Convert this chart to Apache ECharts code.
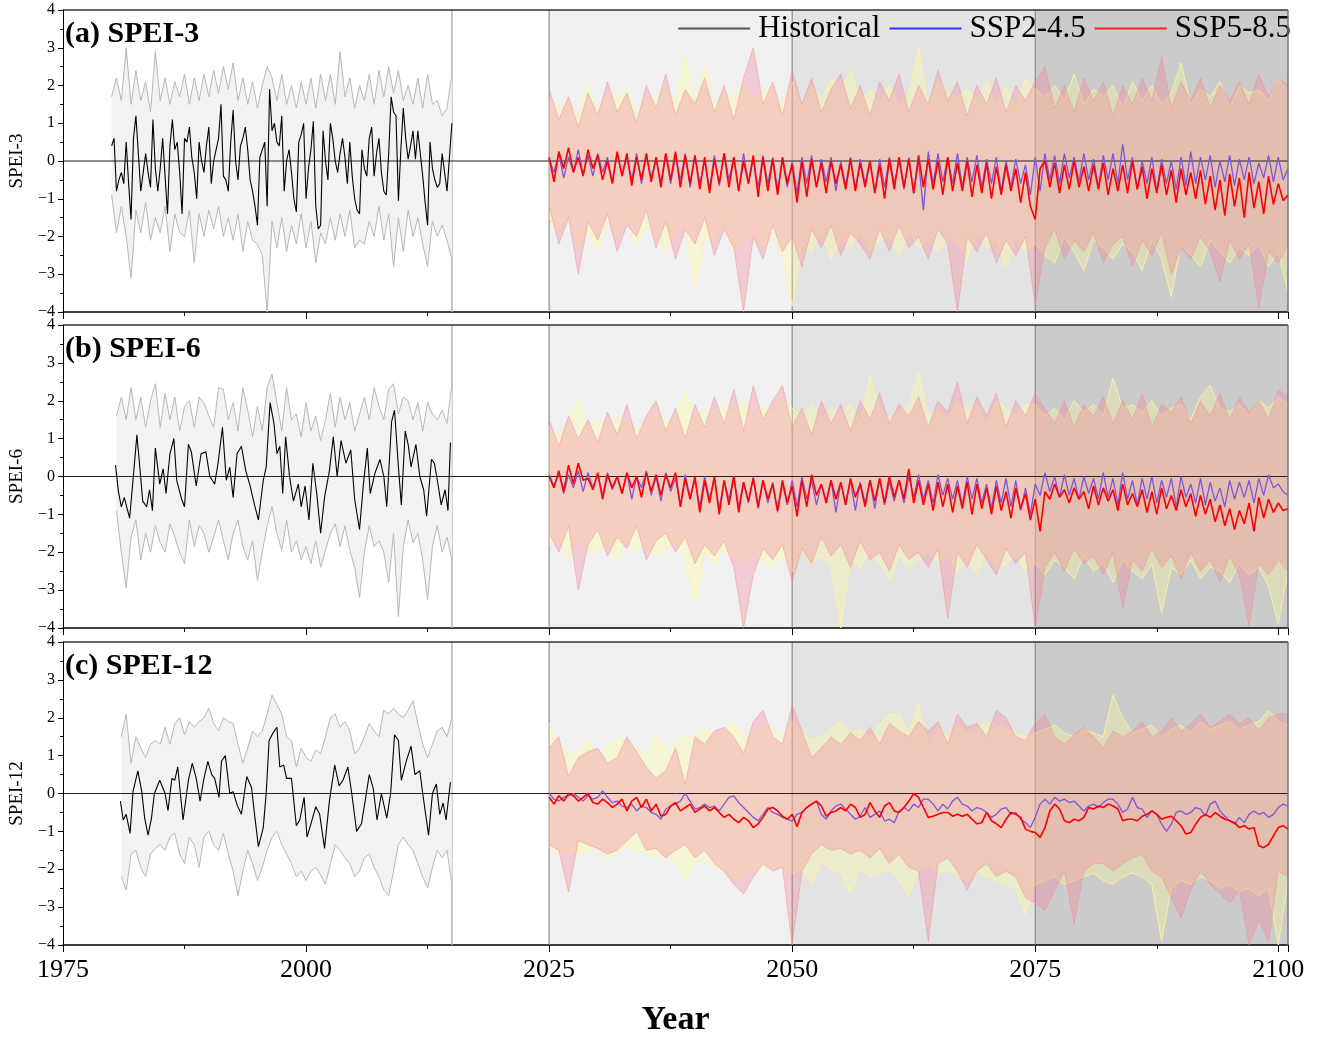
<!DOCTYPE html>
<html><head><meta charset="utf-8">
<script src="https://cdn.jsdelivr.net/npm/echarts@6.0.0/dist/echarts.min.js"></script>
<style>html,body{margin:0;padding:0;background:#fff}#chart{width:1324px;height:1039px}</style>
</head><body><div id="chart"></div>
<script>
// ---------------- DATA ----------------
const legendNames = ['Historical', 'SSP2-4.5', 'SSP5-8.5'];
const panelLabels = ['(a) SPEI-3', '(b) SPEI-6', '(c) SPEI-12'];
const yNames = ['SPEI-3', 'SPEI-6', 'SPEI-12'];
const bgSpans = [[2025, 2050], [2050, 2075], [2075, 2101]];
const vLineYears = [2015, 2025, 2050, 2075];

// Panel (a) SPEI-3 historical mean (quarterly from 1980.0)
const histSpeiA = [0.4,0.6,-0.8,-0.5,-0.3,-0.6,0.5,-0.6,-1.55,0.6,
1.2,0.2,-0.8,-0.3,0.2,-0.3,-0.7,1.1,-0.2,-0.8,
-0.2,0.6,-0.4,-1.4,0.4,1.1,0.3,0.5,-0.3,-1.4,
0.6,0.5,0.9,0.1,-0.3,-1.0,0.5,0.0,-0.3,0.4,
0.9,-0.6,0.0,0.3,0.6,1.5,-0.4,-0.5,-0.8,0.5,
1.35,0.0,-0.5,0.4,0.6,0.9,0.3,-0.5,-0.8,-1.2,
-1.7,0.1,0.3,0.5,-1.2,1.9,0.8,1.0,0.5,0.4,
1.2,-0.8,0.0,0.3,-0.3,-1.0,-1.35,0.5,0.7,1.0,
-1.0,-0.2,0.3,1.05,-1.2,-1.8,-1.7,0.8,0.0,-0.5,
1.0,0.6,0.0,-0.3,0.2,0.6,0.1,-0.6,0.5,-0.4,
-1.0,-1.3,-1.4,0.3,-0.2,-0.4,0.6,0.9,-0.4,0.2,
0.6,-0.3,-0.8,-0.9,0.2,1.7,1.3,1.2,-1.05,0.3,
1.4,0.6,0.05,0.4,0.8,0.05,0.8,0.2,-0.4,-1.1,
-1.7,0.5,-0.2,-0.5,-0.7,-0.6,0.2,-0.3,-0.8,0.1,
1.0];
// Historical band (half-yearly from 1980.0)
const histUpA = [1.7,2.2,1.6,3.0,1.5,2.4,1.6,2.1,1.3,2.9,
1.6,2.2,1.5,2.1,1.7,2.3,1.5,2.2,1.6,2.3,
1.7,2.4,1.8,2.5,1.9,2.6,1.6,2.2,1.5,2.1,
1.4,2.0,2.5,2.2,1.6,2.3,1.5,2.0,1.4,2.1,
1.5,2.2,1.4,2.3,1.6,2.3,1.5,2.9,1.7,2.2,
1.4,2.0,1.6,2.3,1.5,2.4,1.7,2.5,1.8,2.4,
1.6,2.0,1.5,2.2,1.4,2.3,1.5,1.6,1.2,1.4,
2.3];
const histLoA = [-0.9,-1.9,-1.2,-2.0,-3.1,-1.3,-1.9,-1.1,-2.1,-1.5,
-1.9,-1.2,-2.4,-1.4,-1.9,-2.0,-1.3,-2.7,-1.4,-2.0,
-1.3,-1.8,-1.2,-2.0,-1.5,-2.1,-1.4,-2.4,-1.6,-2.1,
-2.2,-2.5,-4.0,-1.6,-2.3,-1.5,-2.4,-1.7,-2.2,-1.4,
-2.3,-1.6,-2.7,-1.9,-2.2,-1.5,-2.1,-1.4,-2.0,-1.3,
-2.3,-2.1,-2.2,-1.6,-2.0,-1.2,-2.1,-1.4,-2.8,-1.5,
-2.4,-1.3,-2.0,-1.5,-2.2,-2.8,-1.6,-2.0,-1.7,-2.1,
-2.6];
// Future means (half-yearly from 2025.0 to 2101.0)
const ssp245A = [0.05,-0.3,0.2,-0.45,0.1,-0.3,0.3,-0.35,0.15,-0.4,
0.2,-0.3,0.1,-0.55,0.2,-0.4,0.1,-0.5,0.2,-0.6,
0.15,-0.45,0.05,-0.55,0.2,-0.6,0.1,-0.5,0.2,-0.7,
0.15,-0.6,0.0,-0.75,0.15,-0.65,0.2,-0.5,0.1,-0.8,
0.2,-0.6,0.05,-0.7,0.15,-0.6,0.1,-0.75,0.0,-0.7,
0.0,-0.85,0.1,-0.6,0.15,-0.7,0.05,-0.55,0.1,-0.8,
0.0,-0.65,0.1,-0.75,0.05,-0.6,0.0,-0.8,0.05,-0.7,
0.1,-0.6,0.0,-0.75,0.1,-0.85,0.0,-1.3,0.25,-0.6,
0.2,-0.55,0.1,-0.6,0.2,-0.7,0.1,-0.55,0.15,-0.7,
0.05,-0.6,0.1,-0.8,0.0,-0.7,0.05,-0.6,-0.1,-0.9,
0.1,-0.8,0.2,-0.5,0.15,-0.6,0.2,-0.45,0.1,-0.55,
0.2,-0.5,0.05,-0.7,0.15,-0.5,0.2,-0.6,0.45,-0.5,
0.1,-0.75,0.0,-0.6,0.1,-0.8,0.05,-0.6,0.0,-0.75,
0.1,-0.65,0.25,-0.6,0.1,-0.5,0.15,-0.7,0.0,-0.55,
0.15,-0.65,0.05,-0.5,0.1,-0.6,-0.05,-0.45,0.15,-0.55,
0.1,-0.5,-0.2];
const ssp585A = [0.1,-0.55,0.25,-0.2,0.35,-0.3,0.1,-0.4,0.3,-0.2,
0.15,-0.5,0.0,-0.6,0.25,-0.4,0.2,-0.65,0.1,-0.5,
0.2,-0.55,0.1,-0.7,0.2,-0.5,0.25,-0.7,0.15,-0.6,
0.15,-0.75,0.1,-0.85,0.05,-0.6,0.2,-0.7,0.1,-0.8,
0.0,-0.6,0.15,-0.95,0.1,-0.8,0.05,-0.9,0.1,-0.6,
-0.1,-1.1,0.0,-0.95,0.05,-0.7,-0.05,-0.85,0.0,-0.6,
-0.1,-0.75,0.05,-0.8,-0.05,-0.7,0.0,-0.85,-0.1,-1.0,
0.05,-0.75,0.1,-0.7,0.05,-0.85,0.15,-0.7,0.05,-0.75,
0.0,-0.9,0.1,-0.8,-0.05,-0.8,0.0,-0.95,-0.1,-0.85,
-0.05,-1.0,-0.15,-0.9,-0.1,-0.8,-0.2,-1.1,-0.3,-1.2,
-1.55,-0.2,0.0,-0.7,-0.05,-0.85,-0.1,-0.75,0.0,-0.7,
-0.15,-0.8,-0.1,-0.75,-0.05,-0.9,-0.2,-0.8,-0.1,-0.85,
0.0,-0.75,-0.15,-1.0,-0.2,-0.85,-0.1,-0.9,-0.25,-1.1,
-0.2,-0.9,-0.3,-1.0,-0.25,-1.15,-0.4,-1.3,-0.5,-1.45,
-0.35,-1.2,-0.45,-1.5,-0.3,-1.25,-0.55,-1.4,-0.4,-1.15,
-0.6,-1.05,-0.9];
// Future bands (yearly 2025..2101)
const ssp245UpA = [1.6,1.4,1.5,1.2,2.0,1.3,1.8,1.6,1.9,1.2,
1.7,1.6,2.0,1.5,2.75,1.4,2.5,1.5,1.8,1.6,
2.0,1.6,1.8,1.9,1.5,2.1,1.4,2.0,1.6,2.2,
1.8,2.4,1.6,1.9,1.5,2.0,1.4,1.8,3.0,1.4,
2.1,1.8,1.7,1.9,1.6,2.1,1.5,2.0,1.4,2.2,
1.9,1.7,2.0,1.6,2.3,1.5,1.9,1.7,2.0,1.4,
2.1,1.6,2.0,1.5,1.8,2.6,1.5,1.9,1.7,2.1,
1.4,2.0,1.8,1.9,1.6,2.2,1.8];
const ssp245LoA = [-1.5,-1.9,-1.3,-2.3,-1.8,-2.4,-1.6,-2.0,-1.5,-2.2,
-1.7,-2.0,-2.4,-1.9,-1.7,-3.3,-2.0,-2.2,-1.6,-2.4,
-2.1,-1.8,-2.3,-2.0,-2.5,-3.85,-2.2,-2.4,-1.9,-2.6,
-2.0,-2.3,-1.9,-2.4,-2.1,-2.0,-2.5,-1.8,-2.3,-2.1,
-2.4,-2.0,-2.2,-2.6,-1.9,-2.3,-2.1,-2.8,-2.0,-2.4,
-2.2,-2.5,-2.7,-2.0,-2.4,-2.9,-2.1,-2.3,-2.6,-2.2,
-2.4,-2.9,-2.1,-2.6,-3.6,-2.2,-2.5,-2.8,-2.1,-2.4,
-2.7,-2.3,-2.5,-2.2,-2.8,-2.4,-3.5];
const ssp585UpA = [1.9,1.1,1.7,0.9,1.8,1.2,2.1,1.3,1.8,1.0,
2.0,1.4,2.3,1.2,1.9,1.5,2.2,1.3,2.0,1.1,
2.2,3.0,1.5,2.1,1.2,2.4,1.5,2.2,1.3,1.9,
2.3,1.4,2.0,1.2,2.1,1.6,2.3,1.3,2.0,1.5,
2.4,1.6,2.1,1.2,2.0,1.5,2.2,1.3,2.0,1.6,
2.1,2.5,1.4,2.0,1.3,2.2,1.6,2.1,1.2,2.0,
1.5,2.2,1.6,2.8,1.4,2.1,1.6,2.2,1.4,2.0,
1.6,2.1,1.5,2.3,1.7,2.2,2.0];
const ssp585LoA = [-1.2,-2.2,-1.5,-3.0,-1.6,-2.1,-1.4,-2.4,-1.7,-2.0,
-1.3,-2.3,-1.6,-2.6,-1.8,-2.2,-1.5,-2.5,-1.8,-2.3,
-4.0,-2.0,-2.6,-1.7,-2.4,-2.0,-2.8,-1.8,-2.3,-1.7,
-2.5,-1.9,-2.2,-2.6,-1.8,-2.4,-1.7,-2.3,-2.0,-2.6,
-1.8,-2.2,-4.0,-2.0,-2.4,-1.9,-2.7,-2.1,-2.5,-2.0,
-3.8,-2.3,-1.8,-2.6,-2.1,-2.4,-1.9,-2.7,-2.2,-2.0,
-2.8,-2.1,-2.5,-1.9,-3.0,-2.3,-2.6,-2.0,-2.4,-3.2,
-2.1,-2.6,-2.2,-3.9,-2.4,-2.7,-2.2];

// Panel (b) SPEI-6 historical mean (read at turning points)
const histTimeB = [1980.4,1980.7,1981.0,1981.3,1981.85,1982.2,1982.6,1982.9,1983.2,1983.6,
1983.9,1984.2,1984.5,1984.95,1985.3,1985.6,1986.0,1986.4,1986.7,1987.2,
1987.5,1987.9,1988.2,1988.7,1989.2,1989.7,1990.1,1990.6,1990.95,1991.4,
1991.8,1992.15,1992.5,1992.9,1993.35,1993.8,1994.2,1994.7,1995.1,1995.6,
1995.9,1996.3,1996.7,1997.0,1997.3,1997.6,1997.9,1998.3,1998.7,1999.2,
1999.5,1999.9,2000.3,2000.7,2001.1,2001.5,2001.9,2002.4,2002.8,2003.2,
2003.6,2004.1,2004.6,2005.0,2005.5,2005.9,2006.3,2006.6,2007.1,2007.6,
2008.0,2008.3,2008.8,2009.1,2009.5,2009.8,2010.2,2010.5,2010.8,2011.3,
2011.7,2012.1,2012.4,2012.9,2013.2,2013.6,2013.9,2014.3,2014.6,2014.85];
const histSpeiB = [0.3,-0.4,-0.8,-0.55,-1.1,-0.1,1.1,0.25,-0.65,-0.8,
-0.35,-0.9,0.75,-0.2,0.2,-0.45,0.6,1.0,-0.1,-0.6,
-0.8,0.85,0.65,-0.25,0.6,0.65,0.0,-0.2,0.35,1.3,
-0.1,0.25,-0.55,0.6,0.8,0.15,-0.2,-0.75,-1.15,-0.1,
0.25,1.95,1.4,0.6,0.8,-0.45,1.05,0.0,-0.65,-0.2,
-0.8,-0.25,-1.15,0.35,-0.45,-1.5,-0.55,0.15,1.05,0.0,
0.95,0.35,0.7,-0.6,-1.4,-0.2,0.75,-0.45,0.1,0.45,
0.0,-0.8,1.45,1.75,0.25,-0.75,1.2,0.85,0.25,0.85,
0.0,-0.35,-1.05,0.45,0.35,-0.25,-0.75,-0.35,-0.9,0.9];
// Historical band (half-yearly from 1980.5)
const histUpB = [1.6,2.1,1.5,2.35,1.5,2.1,1.3,2.0,2.45,1.3,
2.2,1.5,2.1,1.2,1.85,2.0,1.3,2.1,1.95,1.6,
1.3,2.35,2.3,1.5,1.95,1.2,2.35,1.75,1.05,1.85,
1.2,2.35,2.7,1.95,1.2,2.35,1.5,1.65,1.05,1.95,
1.2,1.6,0.95,1.5,2.2,1.3,2.1,1.5,1.95,1.2,
1.65,2.1,1.5,2.35,1.85,1.5,2.3,2.45,1.65,2.1,
2.0,1.5,1.95,1.2,1.95,1.65,1.5,1.75,1.4,2.45];
const histLoB = [-0.9,-2.0,-2.95,-1.6,-1.15,-2.2,-1.5,-2.0,-1.3,-1.75,
-2.0,-1.25,-1.6,-2.0,-2.3,-1.15,-1.85,-1.3,-1.5,-2.0,
-1.6,-1.15,-1.7,-2.2,-1.5,-1.15,-1.85,-2.2,-1.7,-2.75,
-2.0,-1.3,-0.8,-1.5,-1.95,-1.15,-2.0,-1.7,-2.2,-1.85,
-2.3,-1.7,-2.4,-1.95,-1.5,-1.25,-1.85,-1.3,-1.95,-2.4,
-3.2,-2.0,-1.3,-1.85,-1.7,-2.0,-2.8,-1.5,-3.7,-1.85,
-1.15,-1.75,-1.5,-2.2,-3.25,-1.85,-1.3,-2.0,-1.6,-2.2];
const ssp245B = [0.05,-0.25,0.1,-0.45,0.05,-0.3,0.15,-0.4,0.1,-0.3,
0.05,-0.5,0.1,-0.35,0.0,-0.45,0.1,-0.6,0.0,-0.3,
0.15,-0.5,0.0,-0.65,0.1,-0.4,-0.05,-0.75,0.05,-0.55,
-0.1,-0.8,0.0,-0.6,-0.05,-0.85,-0.1,-0.6,0.0,-0.8,
-0.15,-0.7,0.0,-0.85,-0.1,-0.7,-0.15,-0.95,-0.2,-0.75,
-0.1,-0.8,0.0,-0.6,-0.1,-0.75,-0.2,-0.65,-0.1,-0.95,
-0.15,-0.75,-0.1,-0.9,-0.15,-0.7,-0.1,-0.85,-0.05,-0.75,
-0.15,-0.65,-0.1,-0.7,0.0,-0.55,0.05,-0.6,-0.1,-0.7,
0.05,-0.5,-0.05,-0.6,-0.1,-0.75,0.0,-0.6,-0.05,-0.7,
-0.2,-0.85,-0.1,-0.7,-0.05,-0.8,-0.1,-0.9,-0.3,-1.0,
-0.2,-0.5,0.1,-0.4,0.0,-0.55,0.05,-0.5,-0.05,-0.6,
0.0,-0.45,-0.05,-0.6,0.1,-0.55,-0.05,-0.75,0.1,-0.6,
-0.1,-0.75,-0.05,-0.6,0.0,-0.7,-0.1,-0.55,-0.05,-0.8,
0.0,-0.55,-0.2,-0.7,-0.05,-0.75,-0.15,-0.65,-0.3,-0.8,
-0.1,-0.6,-0.15,-0.55,-0.1,-0.7,-0.05,-0.5,0.05,-0.3,
-0.2,-0.4,-0.5];
const ssp585B = [0.0,-0.3,0.15,-0.4,0.3,-0.2,0.35,-0.1,-0.05,-0.35,
0.1,-0.6,0.05,-0.3,0.0,-0.45,0.1,-0.3,0.0,-0.55,
0.1,-0.4,0.05,-0.5,0.05,-0.3,0.1,-0.8,-0.05,-0.6,
0.0,-0.95,-0.1,-0.7,0.0,-1.0,-0.1,-0.75,0.0,-0.95,
-0.15,-0.65,-0.05,-0.8,-0.1,-0.6,-0.2,-0.9,-0.1,-0.7,
-0.25,-1.05,-0.1,-0.8,0.05,-0.5,-0.2,-0.7,-0.1,-0.6,
-0.15,-0.75,-0.05,-0.55,-0.2,-0.8,-0.1,-0.65,-0.05,-0.7,
0.0,-0.55,-0.1,-0.6,0.2,-0.7,-0.1,-0.75,-0.2,-0.9,
-0.15,-0.8,-0.2,-0.95,-0.25,-0.85,-0.15,-1.0,-0.2,-0.85,
-0.3,-1.0,-0.25,-0.9,-0.4,-1.1,-0.3,-0.85,-0.45,-1.15,
-0.6,-1.45,-0.4,-0.6,-0.2,-0.55,-0.35,-0.7,-0.3,-0.6,
-0.4,-0.85,-0.25,-0.75,-0.3,-0.65,-0.35,-0.9,-0.2,-0.75,
-0.45,-0.8,-0.35,-0.95,-0.4,-1.0,-0.3,-0.85,-0.5,-0.9,
-0.35,-0.8,-0.45,-1.05,-0.5,-1.0,-0.6,-1.2,-0.75,-1.3,
-0.85,-1.4,-0.9,-1.25,-0.7,-1.45,-0.55,-1.1,-0.6,-0.95,
-0.7,-0.9,-0.85];
const ssp245UpB = [1.3,1.1,1.4,2.0,1.2,1.5,1.3,1.6,1.4,1.2,
1.5,1.7,1.4,1.6,2.2,1.5,1.8,1.6,1.9,1.7,
2.0,1.6,1.8,1.7,2.1,1.8,1.6,1.9,1.5,1.8,
1.6,1.9,1.4,2.65,1.8,1.5,1.7,1.9,2.75,1.6,
1.8,1.5,2.0,1.7,1.9,1.4,2.0,1.8,1.6,1.9,
1.9,1.6,1.8,1.5,2.0,1.7,1.9,1.6,2.6,1.8,
1.9,1.7,2.0,1.6,1.8,1.9,1.5,2.1,2.4,1.8,
1.7,1.9,1.6,2.0,1.8,2.1,1.9];
const ssp245LoB = [-1.8,-1.6,-2.2,-1.5,-1.9,-2.0,-1.7,-2.2,-1.6,-2.0,
-1.8,-2.1,-1.9,-1.7,-2.2,-3.35,-2.0,-2.3,-1.9,-2.1,
-2.3,-2.0,-2.2,-2.4,-2.1,-2.5,-2.0,-2.3,-2.1,-2.4,
-4.0,-2.2,-2.4,-2.0,-2.3,-2.75,-2.1,-2.4,-2.2,-2.0,
-2.3,-2.1,-2.5,-2.2,-2.6,-2.0,-2.4,-2.3,-2.1,-2.5,
-2.3,-2.6,-2.2,-2.4,-2.7,-2.1,-2.5,-2.3,-2.8,-2.2,
-2.5,-2.7,-2.3,-3.6,-2.4,-2.6,-2.2,-2.7,-2.4,-2.5,
-2.8,-2.3,-2.6,-2.4,-2.9,-3.9,-2.5];
const ssp585UpB = [1.5,0.8,1.6,1.0,1.5,0.9,1.7,1.1,1.9,1.0,
1.6,2.0,1.2,1.8,1.0,1.9,1.3,2.1,1.4,2.3,
1.2,2.4,1.5,2.0,2.4,1.3,1.8,1.1,2.0,1.4,
1.9,1.2,2.0,1.5,2.2,1.4,1.9,1.6,2.1,1.3,
2.0,1.7,2.5,1.4,2.1,1.6,2.2,1.3,2.0,1.6,
2.2,1.8,1.4,2.0,1.3,1.9,1.6,2.1,1.4,2.0,
1.5,2.2,1.3,1.9,1.7,2.1,1.4,2.0,1.6,2.2,
1.5,2.1,1.7,2.0,1.5,2.3,2.1];
const ssp585LoB = [-1.5,-2.0,-1.3,-3.0,-1.8,-1.4,-2.1,-1.6,-1.9,-1.3,
-2.2,-1.7,-1.5,-2.0,-1.6,-2.3,-1.8,-2.1,-1.7,-2.4,
-4.0,-2.6,-1.9,-2.2,-1.8,-2.8,-1.9,-2.3,-1.6,-2.1,
-1.8,-2.4,-1.7,-2.2,-2.0,-2.5,-1.8,-2.2,-2.0,-2.4,
-1.9,-3.75,-2.0,-2.4,-1.8,-2.2,-2.6,-1.9,-2.3,-2.0,
-4.0,-2.4,-2.0,-2.5,-1.9,-2.3,-2.1,-2.6,-2.0,-3.5,
-2.2,-2.5,-1.9,-2.4,-2.1,-2.7,-2.0,-2.5,-2.2,-2.8,
-2.1,-2.6,-3.95,-2.3,-2.6,-2.2,-2.5];

// Panel (c) SPEI-12 historical mean (read at turning points)
const histTimeC = [1980.9,1981.2,1981.5,1981.9,1982.2,1982.7,1983.1,1983.4,1983.75,1984.1,
1984.4,1984.95,1985.5,1985.8,1986.2,1986.5,1986.8,1987.35,1987.9,1988.3,
1988.7,1989.1,1989.5,1989.9,1990.3,1990.6,1991.05,1991.3,1991.7,1992.15,
1992.5,1992.9,1993.35,1993.9,1994.4,1994.7,1995.1,1995.6,1995.9,1996.2,
1996.6,1997.0,1997.3,1997.7,1998.0,1998.5,1999.0,1999.35,1999.8,2000.1,
2000.5,2001.0,2001.4,2001.9,2002.4,2002.95,2003.4,2003.8,2004.3,2004.7,
2005.2,2005.7,2006.2,2006.5,2006.9,2007.3,2007.75,2008.3,2008.7,2009.1,
2009.5,2009.8,2010.3,2010.8,2011.2,2011.7,2012.0,2012.6,2013.0,2013.4,
2013.75,2014.1,2014.4,2014.6,2014.85];
const histSpeiC = [-0.2,-0.7,-0.55,-1.05,0.05,0.6,0.05,-0.65,-1.1,-0.65,
0.0,0.35,0.0,-0.45,0.4,0.35,0.7,-0.7,0.35,0.8,
0.4,-0.2,0.4,0.85,0.5,0.4,-0.1,0.85,1.0,0.0,
0.05,-0.3,-0.55,0.45,0.15,-0.55,-1.4,-0.9,0.0,1.4,
1.6,1.75,0.7,0.75,0.4,0.4,-0.85,-0.7,-0.1,-1.15,
-0.8,-0.35,-0.55,-1.45,-0.2,0.75,0.2,0.35,0.7,0.0,
-1.0,-0.8,0.0,0.5,0.15,-0.7,0.0,-0.65,0.0,1.55,
1.4,0.35,0.85,1.25,0.5,0.6,0.0,-1.1,0.0,0.25,
-0.55,-0.25,-0.7,-0.65,0.3];
// Historical band (half-yearly from 1981.0)
const histUpC = [1.5,2.1,0.8,1.5,1.2,0.95,1.3,1.4,1.3,1.75,
1.3,1.85,2.0,1.55,1.9,1.75,1.9,2.0,2.25,1.85,
1.65,2.0,1.9,1.85,1.3,0.8,1.2,1.65,1.5,1.65,
2.1,2.6,2.35,2.1,1.5,1.4,0.7,1.2,0.95,0.85,
1.15,1.05,1.5,2.0,2.1,1.75,1.9,1.65,1.05,1.2,
1.5,1.85,1.65,1.5,2.2,2.1,2.25,2.1,2.0,2.2,
2.45,1.85,1.3,0.95,1.3,1.65,1.75,1.5,2.0];
const histLoC = [-2.2,-2.55,-1.6,-1.5,-1.95,-2.2,-1.6,-1.45,-1.35,-1.5,
-1.15,-1.05,-1.6,-1.85,-1.15,-1.35,-1.95,-1.15,-1.0,-1.35,
-1.5,-1.05,-1.6,-2.05,-2.7,-2.05,-1.5,-1.85,-2.3,-1.95,
-1.5,-1.15,-1.0,-1.35,-1.6,-1.85,-2.2,-2.05,-2.3,-2.05,
-1.95,-2.15,-2.4,-1.85,-1.35,-1.5,-1.7,-1.85,-2.2,-2.05,
-1.7,-1.6,-1.95,-2.2,-2.55,-2.7,-2.05,-1.35,-1.15,-1.35,
-1.5,-1.85,-2.2,-2.5,-1.95,-1.5,-1.7,-1.5,-2.4];
const ssp245C = [0.0,-0.15,-0.2,-0.1,-0.06,0.0,-0.1,-0.2,-0.06,-0.15,
-0.1,0.07,-0.1,-0.24,-0.2,-0.33,-0.37,-0.28,-0.46,-0.33,
-0.37,-0.5,-0.55,-0.68,-0.41,-0.33,-0.28,-0.2,0.0,-0.2,
-0.41,-0.37,-0.28,-0.37,-0.33,-0.46,-0.28,-0.1,-0.06,-0.24,
-0.37,-0.5,-0.63,-0.72,-0.55,-0.37,-0.5,-0.55,-0.63,-0.68,
-0.72,-0.55,-0.5,-0.37,-0.28,-0.2,-0.55,-0.68,-0.46,-0.33,
-0.28,-0.41,-0.55,-0.68,-0.6,-0.37,-0.63,-0.55,-0.46,-0.72,
-0.68,-0.77,-0.46,-0.37,-0.46,-0.28,-0.37,-0.15,-0.15,-0.28,
-0.46,-0.28,-0.41,-0.2,-0.1,-0.28,-0.33,-0.46,-0.37,-0.41,
-0.5,-0.63,-0.55,-0.41,-0.37,-0.55,-0.5,-0.68,-0.77,-0.9,
-0.63,-0.28,-0.15,-0.28,-0.1,-0.2,-0.15,-0.24,-0.2,-0.33,
-0.46,-0.33,-0.28,-0.37,-0.24,-0.15,-0.15,-0.28,-0.5,-0.41,
-0.1,-0.37,-0.41,-0.63,-0.46,-0.55,-0.81,-1.0,-0.81,-0.5,
-0.46,-0.55,-0.5,-0.37,-0.41,-0.6,-0.28,-0.2,-0.46,-0.6,
-0.72,-0.81,-0.63,-0.77,-0.55,-0.46,-0.55,-0.5,-0.63,-0.55,
-0.37,-0.28,-0.33];
const ssp585C = [-0.1,-0.28,-0.06,-0.2,0.0,-0.06,-0.2,-0.1,0.0,-0.24,
-0.28,-0.15,-0.24,-0.37,-0.28,-0.15,-0.46,-0.2,-0.1,-0.37,
-0.15,-0.46,-0.28,-0.6,-0.55,-0.33,-0.24,-0.46,-0.37,-0.28,
-0.5,-0.41,-0.33,-0.46,-0.37,-0.5,-0.63,-0.55,-0.68,-0.77,
-0.63,-0.72,-0.9,-0.8,-0.63,-0.41,-0.37,-0.46,-0.6,-0.68,
-0.55,-0.88,-0.5,-0.37,-0.28,-0.2,-0.33,-0.6,-0.5,-0.46,
-0.37,-0.46,-0.28,-0.37,-0.63,-0.55,-0.24,-0.46,-0.63,-0.33,
-0.24,-0.46,-0.5,-0.37,-0.2,0.0,-0.1,-0.37,-0.63,-0.6,
-0.55,-0.5,-0.5,-0.6,-0.55,-0.6,-0.55,-0.68,-0.8,-0.77,
-0.5,-0.72,-0.8,-0.9,-0.68,-0.5,-0.55,-0.63,-0.94,-1.0,
-1.03,-1.16,-0.9,-0.46,-0.28,-0.41,-0.72,-0.77,-0.68,-0.72,
-0.63,-0.37,-0.41,-0.33,-0.37,-0.28,-0.33,-0.41,-0.72,-0.68,
-0.68,-0.72,-0.6,-0.55,-0.46,-0.55,-0.68,-0.63,-0.6,-0.72,
-0.85,-1.07,-1.03,-0.81,-0.63,-0.55,-0.63,-0.5,-0.6,-0.68,
-0.72,-0.77,-0.9,-0.85,-0.94,-0.9,-1.38,-1.43,-1.34,-1.12,
-0.9,-0.85,-0.94];
const ssp245UpC = [1.85,1.3,1.0,1.1,1.4,1.0,1.2,1.5,1.3,1.2,
1.0,1.6,1.1,1.3,1.55,1.4,1.7,1.5,1.6,1.9,
1.5,1.6,1.8,1.7,1.5,1.9,1.6,1.4,1.5,1.7,
1.9,1.6,1.7,1.5,1.8,2.1,2.1,1.6,2.4,1.2,
1.7,1.5,1.8,1.6,1.7,1.9,1.8,1.7,1.6,1.5,
1.6,1.7,1.8,1.6,1.5,1.7,1.6,1.5,2.6,2.0,
1.6,1.7,1.8,1.5,1.7,1.8,1.6,1.9,1.7,1.8,
1.9,1.7,1.8,1.9,2.2,1.9,1.8];
const ssp245LoC = [-1.4,-1.6,-1.5,-1.6,-1.5,-1.4,-1.7,-1.6,-1.4,-1.5,
-1.6,-1.7,-1.5,-1.8,-2.3,-1.8,-1.7,-1.9,-2.0,-2.3,
-2.2,-2.0,-2.1,-1.9,-2.0,-2.1,-2.0,-2.4,-1.8,-2.0,
-2.1,-2.65,-2.0,-2.2,-2.1,-2.0,-2.3,-2.7,-2.0,-1.9,
-2.1,-2.0,-2.2,-2.3,-2.1,-2.2,-2.3,-2.4,-2.5,-3.2,
-2.4,-2.3,-2.2,-2.4,-2.3,-2.2,-2.1,-2.3,-2.4,-2.2,
-2.1,-2.2,-2.4,-3.9,-2.5,-2.3,-2.4,-2.2,-2.3,-2.5,
-2.4,-2.6,-2.5,-2.7,-2.5,-4.0,-2.3];
const ssp585UpC = [1.2,1.5,0.45,0.95,1.1,1.2,0.8,0.95,1.5,1.1,
0.7,0.4,0.6,1.2,0.25,1.5,1.3,1.65,1.75,1.5,
1.05,1.9,2.2,1.5,1.3,2.35,1.65,0.95,1.2,1.5,
1.3,1.6,1.4,1.75,1.3,1.85,1.65,1.5,1.9,1.65,
1.9,1.3,2.1,1.75,1.85,1.5,2.2,2.0,1.5,1.4,
1.85,2.1,1.5,1.3,1.55,1.75,1.5,1.2,1.65,1.5,
1.65,1.9,1.5,1.65,2.0,1.65,1.85,2.1,1.75,1.9,
2.1,1.85,2.0,1.65,2.0,2.1,2.1];
const ssp585LoC = [-1.35,-1.5,-2.6,-1.25,-1.35,-1.45,-1.6,-1.5,-1.25,-1.0,
-1.5,-1.45,-1.7,-1.5,-1.35,-1.7,-1.5,-1.85,-2.05,-2.4,
-2.65,-2.2,-1.85,-2.05,-1.95,-4.0,-2.05,-1.6,-1.35,-1.5,
-1.45,-1.6,-1.5,-1.7,-1.45,-1.85,-1.6,-1.95,-2.05,-3.9,
-1.85,-1.7,-2.05,-2.55,-2.05,-1.85,-2.2,-2.05,-2.2,-2.75,
-2.9,-3.1,-2.55,-2.05,-3.45,-2.05,-1.85,-1.85,-2.05,-1.85,
-1.7,-1.6,-2.05,-2.2,-2.75,-3.3,-2.55,-2.05,-2.4,-2.65,
-2.9,-2.55,-4.0,-3.35,-3.9,-2.05,-2.2];

// ---------------- CHART ----------------
const seq = (start, step, n) => Array.from({length: n}, (_, i) => +(start + step * i).toFixed(4));
const zip = (t, v) => t.map((x, i) => [x, v[i]]);
const FONT = "'Liberation Serif','Times New Roman',serif";
const X_MIN = 1975, X_MAX = 2101, Y_MIN = -4, Y_MAX = 4;
const futLineT = seq(2025, 0.5, 153);
const futBandT = seq(2025, 1, 77);

const panels = [
  {histT: seq(1980, 0.25, 141), hist: histSpeiA, hbT: seq(1980, 0.5, 71), hUp: histUpA, hLo: histLoA,
   s245: ssp245A, s585: ssp585A, yUp: ssp245UpA, yLo: ssp245LoA, pUp: ssp585UpA, pLo: ssp585LoA},
  {histT: histTimeB, hist: histSpeiB, hbT: seq(1980.5, 0.5, 70), hUp: histUpB, hLo: histLoB,
   s245: ssp245B, s585: ssp585B, yUp: ssp245UpB, yLo: ssp245LoB, pUp: ssp585UpB, pLo: ssp585LoB},
  {histT: histTimeC, hist: histSpeiC, hbT: seq(1981, 0.5, 69), hUp: histUpC, hLo: histLoC,
   s245: ssp245C, s585: ssp585C, yUp: ssp245UpC, yLo: ssp245LoC, pUp: ssp585UpC, pLo: ssp585LoC}
];

const gridTops = [10, 325, 642];
const gridHeights = [302, 303, 303];
const bgColors = ['#f0f0f0', '#e3e3e3', '#cbcbcb'];
const vLineColors = ['#b4b4b4', '#7a7a7a', '#7a7a7a', '#7a7a7a'];
const vLineWidths = [1.5, 1, 1, 1];

function bandSeries(g, t, up, lo, fill, stroke, z) {
  return {
    type: 'custom', xAxisIndex: g, yAxisIndex: g, z: z, silent: true, animation: false,
    data: [[t[0], 0]],
    renderItem: function (params, api) {
      const top = t.map((x, i) => api.coord([x, up[i]]));
      const bot = t.map((x, i) => api.coord([x, lo[i]]));
      return {type: 'group', children: [
        {type: 'polygon', shape: {points: top.concat(bot.slice().reverse())}, style: {fill: fill, stroke: 'none'}},
        {type: 'polyline', shape: {points: top}, style: {fill: 'none', stroke: stroke, lineWidth: 1}},
        {type: 'polyline', shape: {points: bot}, style: {fill: 'none', stroke: stroke, lineWidth: 1}}
      ]};
    }
  };
}
function lineSeries(g, t, v, color, width, z) {
  return {type: 'line', xAxisIndex: g, yAxisIndex: g, data: zip(t, v), symbol: 'none', showSymbol: false,
    lineStyle: {color: color, width: width}, itemStyle: {color: color}, z: z, silent: true, animation: false};
}

const grids = [], xAxes = [], yAxes = [], titles = [], series = [];
panels.forEach((p, g) => {
  grids.push({left: 63, width: 1225, top: gridTops[g], height: gridHeights[g], show: false});
  xAxes.push({type: 'value', gridIndex: g, min: X_MIN, max: X_MAX, interval: 25,
    axisLine: {show: true, onZero: false, lineStyle: {color: '#000', width: 1.5}},
    axisTick: {show: true, length: 7, lineStyle: {color: '#000', width: 1}},
    minorTick: {show: true, splitNumber: 2, length: 4, lineStyle: {color: '#000', width: 1}},
    splitLine: {show: false}, minorSplitLine: {show: false},
    axisLabel: {show: g === 2, fontFamily: FONT, fontSize: 26, color: '#000', margin: 12,
      formatter: v => (v % 25 === 0 ? String(v) : '')},
    name: g === 2 ? 'Year' : '', nameLocation: 'middle', nameGap: 58,
    nameTextStyle: {fontFamily: FONT, fontSize: 34, fontWeight: 'bold', color: '#000'}});
  yAxes.push({type: 'value', gridIndex: g, min: Y_MIN, max: Y_MAX, interval: 1,
    axisLine: {show: true, onZero: false, lineStyle: {color: '#000', width: 1}},
    axisTick: {show: true, length: 5, lineStyle: {color: '#000'}},
    minorTick: {show: true, splitNumber: 2, length: 3, lineStyle: {color: '#000'}},
    splitLine: {show: false},
    axisLabel: {fontFamily: FONT, fontSize: 16, color: '#000', margin: 8,
      formatter: v => (v < 0 ? '\u2212' + Math.abs(v) : String(v))},
    name: yNames[g], nameLocation: 'middle', nameGap: 36,
    nameTextStyle: {fontFamily: FONT, fontSize: 19, color: '#000'}});
  titles.push({text: panelLabels[g], left: 65, top: gridTops[g] + 9, padding: 0,
    textStyle: {fontFamily: FONT, fontWeight: 'bold', fontSize: 30, color: '#000'}});

  // background periods
  series.push({type: 'custom', xAxisIndex: g, yAxisIndex: g, z: 0, silent: true, animation: false,
    data: bgSpans,
    renderItem: function (params, api) {
      const a = api.coord([api.value(0), Y_MAX]);
      const b = api.coord([api.value(1), Y_MIN]);
      return {type: 'rect', shape: {x: a[0], y: a[1], width: b[0] - a[0], height: b[1] - a[1]},
        style: {fill: bgColors[params.dataIndex]}};
    }});
  // vertical separators
  series.push({type: 'custom', xAxisIndex: g, yAxisIndex: g, z: 1, silent: true, animation: false,
    data: vLineYears.map(y => [y, 0]),
    renderItem: function (params, api) {
      const a = api.coord([api.value(0), Y_MAX]);
      const b = api.coord([api.value(0), Y_MIN]);
      return {type: 'line', shape: {x1: a[0], y1: a[1], x2: b[0], y2: b[1]},
        style: {stroke: vLineColors[params.dataIndex], lineWidth: vLineWidths[params.dataIndex]}};
    }});
  // bands
  series.push(bandSeries(g, p.hbT, p.hUp, p.hLo, '#f2f2f2', '#b8b8b8', 2));
  series.push(bandSeries(g, futBandT, p.yUp, p.yLo, 'rgba(255,255,160,0.32)', 'rgba(250,245,160,0.85)', 2));
  series.push(bandSeries(g, futBandT, p.pUp, p.pLo, 'rgba(245,128,150,0.33)', 'rgba(235,140,140,0.45)', 3));
  // zero line + frame
  series.push({type: 'custom', xAxisIndex: g, yAxisIndex: g, z: 4, silent: true, animation: false,
    data: [[X_MIN, 0]],
    renderItem: function (params, api) {
      const a = api.coord([X_MIN, 0]), b = api.coord([X_MAX, 0]);
      const tl = api.coord([X_MIN, Y_MAX]), tr = api.coord([X_MAX, Y_MAX]), br = api.coord([X_MAX, Y_MIN]);
      return {type: 'group', children: [
        {type: 'line', shape: {x1: a[0], y1: a[1], x2: b[0], y2: b[1]}, style: {stroke: '#222', lineWidth: 1}},
        {type: 'line', shape: {x1: tl[0], y1: tl[1], x2: tr[0], y2: tr[1]}, style: {stroke: '#333', lineWidth: 1.5}},
        {type: 'line', shape: {x1: tr[0], y1: tr[1], x2: br[0], y2: br[1]}, style: {stroke: '#777', lineWidth: 1.5}}
      ]};
    }});
  // mean lines
  series.push(lineSeries(g, p.histT, p.hist, '#000', 1.1, 5));
  series.push(lineSeries(g, futLineT, p.s245, '#7b57dd', 1.3, 5));
  series.push(lineSeries(g, futLineT, p.s585, '#ff0000', 1.6, 6));
});

// legend-only series
const legendColors = ['#555555', '#3333ff', '#ff2020'];
legendNames.forEach((n, i) => series.push({type: 'line', name: n, xAxisIndex: 0, yAxisIndex: 0, data: [],
  symbol: 'none', lineStyle: {color: legendColors[i], width: 1.5}, itemStyle: {color: legendColors[i]}}));

const chart = echarts.init(document.getElementById('chart'), null, {renderer: 'canvas', width: 1324, height: 1039});
chart.setOption({
  animation: false,
  backgroundColor: '#fff',
  title: titles,
  legend: {data: legendNames, right: 33, top: 13, padding: 0, icon: 'rect', itemWidth: 72, itemHeight: 2, itemGap: 9,
    selectedMode: false, textStyle: {fontFamily: FONT, fontSize: 31, color: '#000', padding: [0, 0, 0, 3]}},
  grid: grids, xAxis: xAxes, yAxis: yAxes, series: series
});
</script></body></html>
